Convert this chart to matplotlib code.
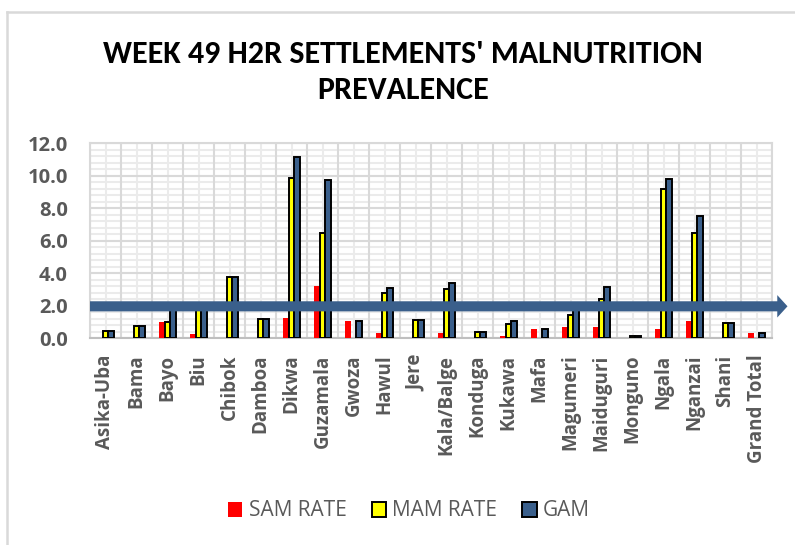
import matplotlib
matplotlib.use("Agg")
import matplotlib.pyplot as plt
import numpy as np
from matplotlib.patches import FancyArrow, Patch
from matplotlib.lines import Line2D

# data
categories = ["Asika-Uba", "Bama", "Bayo", "Biu", "Chibok", "Damboa", "Dikwa",
              "Guzamala", "Gwoza", "Hawul", "Jere", "Kala/Balge", "Konduga",
              "Kukawa", "Mafa", "Magumeri", "Maiduguri", "Monguno", "Ngala",
              "Nganzai", "Shani", "Grand Total"]
sam_rate = [0, 0, 1.0, 0.25, 0, 0, 1.25, 3.2, 1.05, 0.33, 0, 0.33, 0, 0.12,
            0.55, 0.7, 0.68, 0, 0.55, 1.05, 0, 0.28]
mam_rate = [0.43, 0.74, 1.0, 1.7, 3.77, 1.15, 9.87, 6.48, 0, 2.75, 1.1, 3.0,
            0.35, 0.86, 0, 1.42, 2.4, 0.1, 9.19, 6.44, 0.9, 0]
gam = [0.45, 0.74, 2.0, 1.95, 3.77, 1.15, 11.16, 9.72, 1.07, 3.06, 1.1, 3.36,
       0.35, 1.05, 0.55, 2.12, 3.16, 0.1, 9.8, 7.5, 0.9, 0.33]
threshold = 1.95
y_ticks = [0, 2, 4, 6, 8, 10, 12]

RED = "#FF0000"
YELLOW = "#FFFF00"
BLUE = "#3A5F8B"
TXT = "#595959"
GRID = "#d9d9d9"
GRID_MINOR = "#ebebeb"
TITLE_FONT = ["Carlito", "Archivo Narrow", "DejaVu Sans"]
TICK_FONT = ["Open Sans", "DejaVu Sans"]

W, H = 795, 545
fig = plt.figure(figsize=(W / 100, H / 100), dpi=100)
ax = fig.add_axes([90 / W, 1 - 338 / H, (772 - 90) / W, (338 - 143) / H])

x = np.arange(len(categories))
bw = 0.19
series = [(sam_rate, -bw, RED, "none"), (mam_rate, 0, YELLOW, "black"), (gam, bw, BLUE, "black")]
for vals, off, col, ec in series:
    v = np.array(vals, dtype=float)
    m = v > 0
    ax.bar(x[m] + off, v[m], width=bw, color=col, edgecolor=ec,
           linewidth=1.4 if ec != "none" else 0, zorder=3)

ax.set_xlim(-0.5, len(categories) - 0.5)
ax.set_ylim(0, 12)
ax.set_yticks(y_ticks)
ax.set_yticklabels([f"{t:.1f}" for t in y_ticks])
ax.set_xticks(x)
ax.set_xticklabels(categories, rotation=90, ha="center", va="top")

# gridlines: minor first, major on top
for yy in np.arange(0, 12.01, 0.4):
    ax.axhline(yy, color=GRID_MINOR, lw=1.5, zorder=0)
for xx in x:
    ax.axvline(xx, color=GRID_MINOR, lw=1.5, zorder=0)
for yy in y_ticks:
    ax.axhline(yy, color=GRID, lw=1.5, zorder=1)
for xx in np.arange(-0.5, len(categories), 1.0):
    ax.axvline(xx, color=GRID, lw=1.5, zorder=1)

for s in ax.spines.values():
    s.set_color(GRID)
    s.set_linewidth(1.5)
ax.spines["bottom"].set_color("#bfbfbf")

ax.tick_params(which="both", length=0)
ax.tick_params(axis="x", pad=12, labelsize=13.5, labelcolor=TXT)
ax.tick_params(axis="y", pad=16, labelsize=14.5, labelcolor=TXT)
for lab in ax.get_xticklabels() + ax.get_yticklabels():
    lab.set_fontfamily(TICK_FONT)
    lab.set_fontweight("bold")

# threshold arrow
arr = FancyArrow(-0.5, threshold, 22.5, 0, width=0.62, head_width=1.38,
                 head_length=0.33, length_includes_head=True,
                 color=BLUE, lw=0, clip_on=False, zorder=5)
ax.add_patch(arr)

fig.text(403 / W, 1 - 72 / H, "WEEK 49 H2R SETTLEMENTS' MALNUTRITION\nPREVALENCE",
         ha="center", va="center", multialignment="center", fontsize=23,
         fontweight="bold", family=TITLE_FONT, linespacing=1.38, color="black")

handles = [Patch(facecolor=RED, edgecolor="none", label="SAM RATE"),
           Patch(facecolor=YELLOW, edgecolor="black", lw=1.4, label="MAM RATE"),
           Patch(facecolor=BLUE, edgecolor="black", lw=1.4, label="GAM")]
leg = fig.legend(handles=handles, loc="center", bbox_to_anchor=(409 / W, 1 - 511 / H),
                 ncol=3, frameon=False, handlelength=0.7, handleheight=0.7,
                 handletextpad=0.3, columnspacing=1.2,
                 prop={"family": TICK_FONT, "size": 15})
for t in leg.get_texts():
    t.set_color(TXT)

# outer chart border (cropped at right and bottom)
fig.add_artist(Line2D([7 / W, 1], [1 - 12 / H, 1 - 12 / H], color=GRID, lw=1.8))
fig.add_artist(Line2D([7 / W, 7 / W], [0, 1 - 12 / H], color=GRID, lw=1.8))

fig.savefig("out.png", dpi=100)
